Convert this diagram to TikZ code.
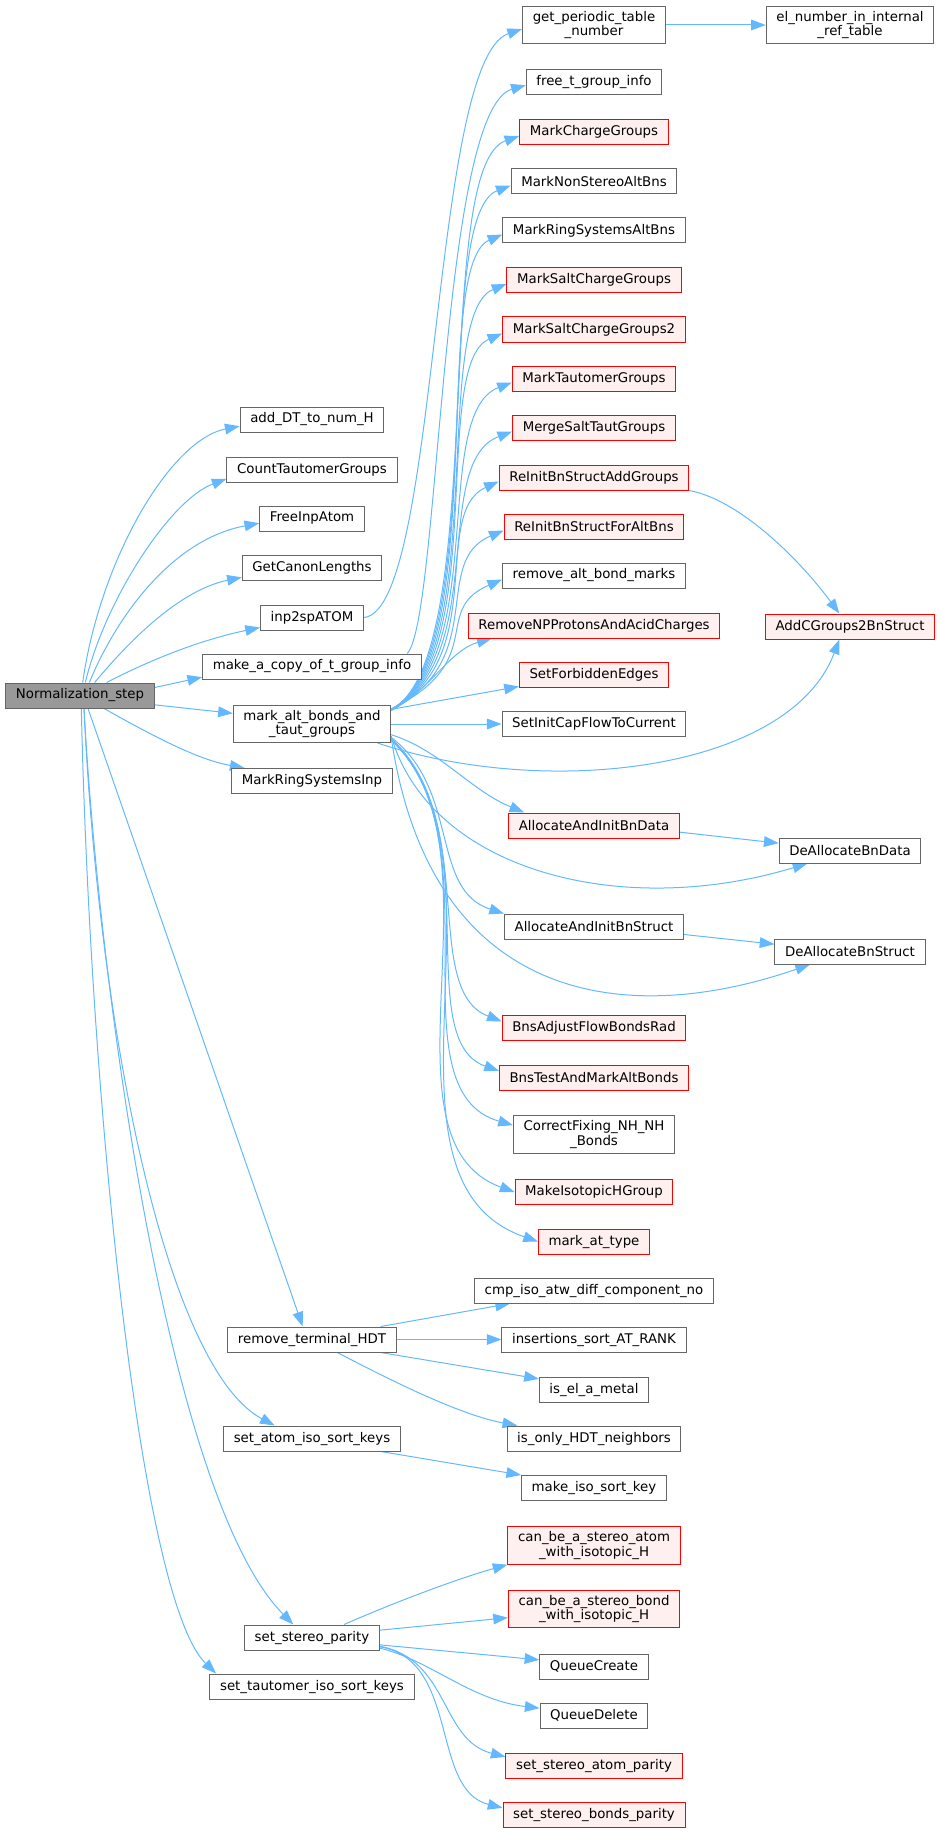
\documentclass[tikz,border=0pt]{standalone}
\usepackage{fontspec}
\setmainfont{DejaVu Sans}
\usetikzlibrary{arrows.meta}

\definecolor{edgeblue}{HTML}{63B8FF}
\definecolor{boxgray}{HTML}{666666}
\definecolor{hotfill}{HTML}{FFF0F0}
\definecolor{rootgray}{HTML}{999999}

\pgfdeclarelayer{edges}
\pgfsetlayers{edges,main}

\begin{document}
\begin{tikzpicture}[x=0.75pt, y=-0.75pt]
  \tikzstyle{every node}=[rectangle, draw=boxgray, fill=white, line width=0.75pt,
    font=\fontsize{10pt}{11pt}\selectfont, align=center,
    inner xsep=7.6pt, inner ysep=3.5pt, minimum height=18.75pt]
  \tikzstyle{hot}=[draw=red, fill=hotfill]
  \tikzstyle{root}=[fill=rootgray]
  \tikzstyle{call}=[edgeblue, line width=0.75pt, -{Triangle[length=11pt, width=8pt]}]

  \useasboundingbox (0,0) rectangle (939,1833);

  \path (80, 695.5) node[root] (nstep) {Normalization\_step};

  % first level
  \foreach \n/\y/\t in {addDT/419.5/add\_DT\_to\_num\_H, count/469.5/CountTautomerGroups,
    freeinp/518.5/FreeInpAtom, getcanon/568/GetCanonLengths, inp2sp/617.5/inp2spATOM,
    makecopy/666.5/make\_a\_copy\_of\_t\_group\_info, markringinp/781/MarkRingSystemsInp,
    remterm/1339.5/remove\_terminal\_HDT, setatom/1438.5/set\_atom\_iso\_sort\_keys,
    setstereo/1637.5/set\_stereo\_parity, settaut/1686.5/set\_tautomer\_iso\_sort\_keys}
  {
    \path (312, \y) node (\n) {\t};
  }
  \path (312, 724) node (markalt) {mark\_alt\_bonds\_and\\\_taut\_groups};

  % second level
  \foreach \n/\y/\t in {freetg/82.5/free\_t\_group\_info, marknonstereo/181.5/MarkNonStereoAltBns,
    markringalt/230.5/MarkRingSystemsAltBns, remaltbond/575.5/remove\_alt\_bond\_marks,
    setinitcap/724/SetInitCapFlowToCurrent, allocstruct/926.5/AllocateAndInitBnStruct,
    cmpiso/1290.5/cmp\_iso\_atw\_diff\_component\_no, inssort/1339.5/insertions\_sort\_AT\_RANK,
    iselmetal/1389.5/is\_el\_a\_metal, isonly/1438.5/is\_only\_HDT\_neighbors,
    makeisokey/1488/make\_iso\_sort\_key, qcreate/1666.5/QueueCreate, qdelete/1715.5/QueueDelete}
  {
    \path (594, \y) node (\n) {\t};
  }
  \foreach \n/\y/\t in {markcharge/132/MarkChargeGroups, marksalt/280/MarkSaltChargeGroups,
    marksalt2/329.5/MarkSaltChargeGroups2, marktaut/378.5/MarkTautomerGroups,
    mergesalt/427.5/MergeSaltTautGroups, reinitadd/477.5/ReInitBnStructAddGroups,
    reinitalt/526.5/ReInitBnStructForAltBns, removenp/625.5/RemoveNPProtonsAndAcidCharges,
    setforb/674.5/SetForbiddenEdges, allocdata/825.5/AllocateAndInitBnData,
    bnsadjust/1028/BnsAdjustFlowBondsRad, bnstest/1077.5/BnsTestAndMarkAltBonds,
    makeiso/1192/MakeIsotopicHGroup, markattype/1241.5/mark\_at\_type,
    setatompar/1765.5/set\_stereo\_atom\_parity, setbondpar/1814.5/set\_stereo\_bonds\_parity}
  {
    \path (594, \y) node[hot] (\n) {\t};
  }
  \path (594, 25) node (getper) {get\_periodic\_table\\\_number};
  \path (594, 1134.5) node (correctfix) {CorrectFixing\_NH\_NH\\\_Bonds};
  \path (594, 1545.5) node[hot] (canatom) {can\_be\_a\_stereo\_atom\\\_with\_isotopic\_H};
  \path (594, 1609) node[hot] (canbond) {can\_be\_a\_stereo\_bond\\\_with\_isotopic\_H};

  % third level
  \path (850, 25) node (elnum) {el\_number\_in\_internal\\\_ref\_table};
  \path (850, 626.5) node[hot] (addcg) {AddCGroups2BnStruct};
  \path (850, 850.5) node (dealldata) {DeAllocateBnData};
  \path (850, 951.5) node (dealstruct) {DeAllocateBnStruct};

  \begin{pgfonlayer}{edges}
  % calls of Normalization_step
  \draw[call] ([xshift=2pt]nstep.north) .. controls (100,560) and (170,440) .. ([yshift=-5pt]addDT.west);
  \draw[call] ([xshift=4pt]nstep.north) .. controls (105,600) and (170,500) .. ([yshift=-7pt]count.west);
  \draw[call] ([xshift=7pt]nstep.north) .. controls (115,620) and (170,540) .. ([yshift=-3.5pt]freeinp.west);
  \draw[call] ([xshift=11pt]nstep.north) .. controls (130,640) and (180,590) .. ([yshift=-7pt]getcanon.west);
  \draw[call] ([xshift=20pt]nstep.north) .. controls (150,660) and (200,640) .. ([yshift=-7.5pt]inp2sp.west);
  \draw[call] ([yshift=6pt]nstep.east) -- ([yshift=-8pt]makecopy.west);
  \draw[call] ([yshift=-7pt]nstep.east) -- ([yshift=8pt]markalt.west);
  \draw[call] ([xshift=18pt]nstep.south) .. controls (160,740) and (200,760) .. ([xshift=10pt]markringinp.north west);
  \draw[call] ([xshift=6pt]nstep.south) -- ([xshift=-7pt]remterm.north);
  \draw[call] ([xshift=3pt]nstep.south) .. controls (100,1050) and (170,1370) .. ([xshift=-28pt]setatom.north);
  \draw[call] ([xshift=3pt]nstep.south) .. controls (100,1000) and (170,1500) .. ([xshift=-14pt]setstereo.north);
  \draw[call] ([xshift=1pt]nstep.south) .. controls (90,1100) and (140,1600) .. ([xshift=5pt]settaut.north west);

  % calls of inp2spATOM and make_a_copy_of_t_group_info
  \draw[call] (inp2sp.east) .. controls (440,610) and (430,60) .. ([yshift=-3pt]getper.west);
  \draw[call] ([xshift=-11pt]makecopy.north east) .. controls (440,620) and (440,110) .. ([yshift=-2pt]freetg.west);
  \draw[call] (getper) -- (elnum);

  % calls of mark_alt_bonds_and_taut_groups
  \foreach \n/\y in {markcharge/132, marknonstereo/181.5, markringalt/230.5, marksalt/280,
    marksalt2/329.5, marktaut/378.5, mergesalt/427.5, reinitadd/477.5, reinitalt/526.5,
    remaltbond/575.5}
  {
    \draw[call] ([yshift=11pt]markalt.east) .. controls (490,660) and (430,\y+35) .. ([yshift=-3pt]\n.west);
  }
  \draw[call] ([yshift=10pt]markalt.east) .. controls (430,690) and (450,650) .. ([xshift=18pt]removenp.south west);
  \draw[call] ([yshift=11pt]markalt.east) -- ([yshift=-9pt]setforb.west);
  \draw[call] (markalt) -- (setinitcap);
  \draw[call] ([xshift=-10pt]markalt.south east) .. controls (550,800) and (790,770) .. ([xshift=-8pt]addcg.south);
  \draw[call] ([yshift=-8pt]markalt.east) .. controls (440,750) and (470,790) .. ([xshift=12pt]allocdata.north west);
  \draw[call] ([yshift=-9pt]markalt.east) .. controls (430,870) and (620,920) .. ([xshift=-32pt]dealldata.south);
  \draw[call] ([yshift=-10pt]markalt.east) .. controls (460,790) and (430,890) .. (allocstruct.north west);
  \draw[call] ([yshift=-10pt]markalt.east) .. controls (430,1000) and (620,1030) .. ([xshift=-30pt]dealstruct.south);
  \draw[call] ([yshift=-11pt]markalt.east) .. controls (480,820) and (420,990) .. ([yshift=5pt]bnsadjust.west);
  \draw[call] ([yshift=-11pt]markalt.east) .. controls (490,830) and (410,1040) .. ([yshift=5pt]bnstest.west);
  \draw[call] ([yshift=-12pt]markalt.east) .. controls (500,840) and (390,1090) .. ([yshift=7pt]correctfix.west);
  \draw[call] ([yshift=-12pt]markalt.east) .. controls (510,850) and (370,1140) .. (makeiso.west);
  \draw[call] ([yshift=-12pt]markalt.east) .. controls (520,860) and (360,1180) .. (markattype.west);

  % second level calls
  \draw[call] (reinitadd.south east) .. controls (740,500) and (800,560) .. ([xshift=-8pt]addcg.north);
  \draw[call] ([yshift=-5pt]allocdata.east) -- ([yshift=5.5pt]dealldata.west);
  \draw[call] ([yshift=-6pt]allocstruct.east) -- ([yshift=5.5pt]dealstruct.west);

  % calls of remove_terminal_HDT
  \draw[call] ([xshift=-12pt]remterm.north east) -- ([xshift=27pt]cmpiso.south west);
  \draw[call] (remterm) -- (inssort);
  \draw[call] ([xshift=-12pt]remterm.south east) -- ([yshift=8pt]iselmetal.west);
  \draw[call] ([xshift=19pt]remterm.south) .. controls (390,1380) and (460,1415) .. ([xshift=8pt]isonly.north west);
  \draw[call] ([xshift=-15pt]setatom.south east) -- (makeisokey.north west);

  % calls of set_stereo_parity
  \draw[call] ([xshift=24pt]setstereo.north) .. controls (400,1600) and (460,1578) .. (canatom.south west);
  \draw[call] ([yshift=5.5pt]setstereo.east) -- ([yshift=-6.5pt]canbond.west);
  \draw[call] ([yshift=-5.5pt]setstereo.east) -- ([yshift=5pt]qcreate.west);
  \draw[call] ([yshift=-8pt]setstereo.east) .. controls (430,1660) and (470,1700) .. ([yshift=5.5pt]qdelete.west);
  \draw[call] ([yshift=-6.5pt]setstereo.east) .. controls (450,1660) and (440,1740) .. ([yshift=6.5pt]setatompar.west);
  \draw[call] ([yshift=-7pt]setstereo.east) .. controls (460,1660) and (430,1790) .. ([yshift=5pt]setbondpar.west);
  \end{pgfonlayer}
\end{tikzpicture}
\end{document}
